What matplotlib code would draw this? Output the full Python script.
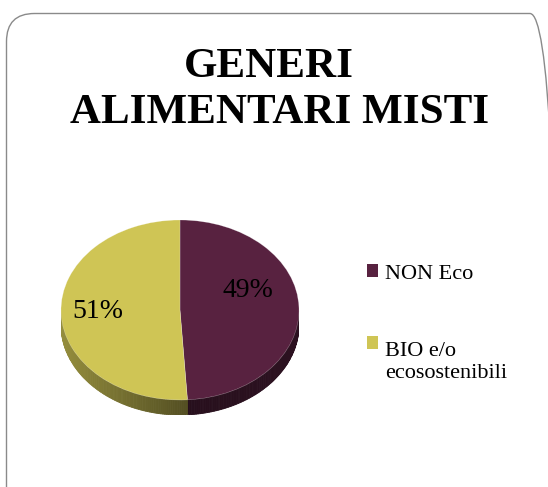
import numpy as np
import matplotlib
matplotlib.use("Agg")
from matplotlib import pyplot as plt
from matplotlib.patches import Rectangle, FancyBboxPatch
from matplotlib.transforms import IdentityTransform
from matplotlib.colors import to_rgb

# dati del grafico
categorie = ["NON Eco", "BIO e/o\necosostenibili"]
valori = [49, 51]
colori = ["#582240", "#cfc555"]
titolo = ["GENERI", "ALIMENTARI MISTI"]

W, H = 548, 487
fig = plt.figure(figsize=(W / 100, H / 100), dpi=100)

# cornice arrotondata in pixel (il lato destro e quello inferiore escono dall'immagine)
cornice = FancyBboxPatch((6.5, -100), 558 - 6.5, H - 13.5 + 100,
                         boxstyle="round,pad=0,rounding_size=28",
                         transform=IdentityTransform(), fc="none", ec="#8a8a8a", lw=1.0,
                         zorder=-1)
fig.patches.append(cornice)

# titolo
fig.text(269 / W, 1 - 77 / H, titolo[0], ha="center", va="baseline",
         family="Liberation Serif", weight="bold", fontsize=31)
fig.text(279.5 / W, 1 - 123 / H, titolo[1], ha="center", va="baseline",
         family="Liberation Serif", weight="bold", fontsize=31)

# torta 3D (ellisse schiacciata + bordo laterale)
d = 15 / 90
ax = fig.add_axes([61 / W, 72 / H, 238 / W, 195 / H])

tot = sum(valori)
start = 90.0
inizio = []
for v in valori:
    inizio.append(start)
    start -= 360 * v / tot


def scuro(c, f):
    r, g, b = to_rgb(c)
    return (r * f, g * f, b * f)


# bordo laterale: segmenti nella metà inferiore
for i, v in enumerate(valori):
    a0 = inizio[i]
    a1 = a0 - 360 * v / tot
    angs = np.linspace(a1, a0, 200)
    for k in range(len(angs) - 1):
        t0, t1 = np.radians(angs[k]), np.radians(angs[k + 1])
        if np.sin(t0) > 0.02 and np.sin(t1) > 0.02:
            continue
        xm = (np.cos(t0) + np.cos(t1)) / 2
        t = (xm + 1) / 2
        if i == 0:
            f = 0.38 + 0.12 * t
        else:
            f = 0.72 - 0.6 * t
        xs = [np.cos(t0), np.cos(t1), np.cos(t1), np.cos(t0)]
        ys = [np.sin(t0), np.sin(t1), np.sin(t1) - d, np.sin(t0) - d]
        ax.fill(xs, ys, color=scuro(colori[i], f), lw=0.6, ec=scuro(colori[i], f))

wedges, texts, autotexts = ax.pie(valori, colors=colori, startangle=90, counterclock=False,
                                  autopct="%d%%", pctdistance=0.7,
                                  wedgeprops=dict(lw=0.4, ec=(1, 1, 1, 0.35)),
                                  textprops=dict(family="Liberation Serif", fontsize=20, color="black"))
autotexts[0].set_position((0.57, 0.22))
autotexts[1].set_position((-0.69, -0.02))
ax.set_aspect("auto")
ax.set_xlim(-1, 1)
ax.set_ylim(-1 - d, 1)
ax.axis("off")

# legenda
ypos = [264, 336]
baseline = [279, 378]
for i, lab in enumerate(categorie):
    fig.patches.append(Rectangle((367 / W, 1 - (ypos[i] + 13) / H), 11 / W, 13 / H,
                                 transform=fig.transFigure, fc=colori[i], ec="none"))
    fig.text(385 / W, 1 - baseline[i] / H, lab, ha="left", va="baseline",
             family="Liberation Serif", fontsize=16, linespacing=1.25)

fig.savefig("out.png", dpi=100)
